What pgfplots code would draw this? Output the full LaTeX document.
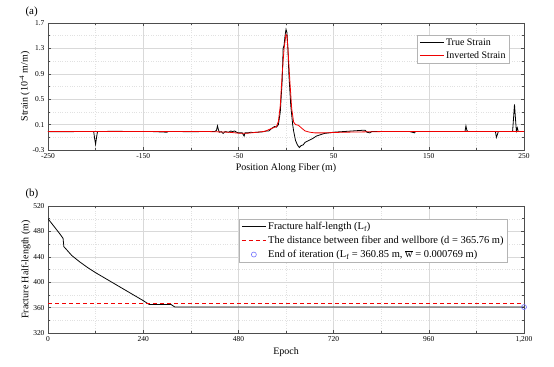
\documentclass[border=0pt]{standalone}
\usepackage{pgfplots}
\pgfplotsset{compat=1.18}
\usepackage{fontspec}
\setmainfont{Liberation Serif}
\definecolor{redA}{RGB}{240,0,0}
\definecolor{redB}{RGB}{238,1,1}
\definecolor{redC}{RGB}{242,2,2}
\definecolor{redD}{RGB}{236,3,3}
\definecolor{blackA}{RGB}{0,0,0}
\definecolor{blackB}{RGB}{3,3,3}
\definecolor{blackC}{RGB}{6,6,6}
\definecolor{blackD}{RGB}{9,9,9}
\definecolor{blueA}{RGB}{110,110,255}
\definecolor{blueB}{RGB}{112,112,254}
\definecolor{frame}{RGB}{77,77,77}
\definecolor{gridc}{RGB}{217,217,217}
\definecolor{gridm}{RGB}{225,225,225}
\definecolor{legc}{RGB}{180,180,180}
\pgfplotsset{
  myax/.style={
    scale only axis, width=476bp, height=127bp,
    axis line style={draw=frame, line width=0.7pt},
    tick align=inside, tick style={draw=frame, line width=0.5pt},
    major tick length=3bp, minor tick length=2bp,
    grid=both,
    major grid style={draw=gridc, line width=0.4pt},
    minor grid style={draw=gridm, line width=0.4pt, dotted},
    tick label style={font=\fontsize{7.5}{9}\selectfont},
    label style={font=\fontsize{10}{12}\selectfont},
    /pgf/number format/assume math mode=true,
    legend cell align=left,
    legend style={font=\fontsize{10}{12}\selectfont, draw=legc, line width=0.5pt, inner xsep=2pt, inner ysep=1.5pt, row sep=0.5pt},
    legend image code/.code={\draw[mark repeat=2,mark phase=2,##1] plot coordinates {(0cm,0cm) (0.42cm,0cm) (0.84cm,0cm)};},
  }
}
\begin{document}
\begin{tikzpicture}
\useasboundingbox (0,0) rectangle (554bp,367bp);
\node[anchor=west, font=\fontsize{11}{12}\selectfont] at (22bp,355bp) {(a)};
\node[anchor=west, font=\fontsize{11}{12}\selectfont] at (22bp,173bp) {(b)};
\begin{axis}[myax, at={(48bp,217bp)}, anchor=south west,
  xmin=-250, xmax=250, ymin=-0.3, ymax=1.7,
  xtick={-250,-150,-50,50,150,250},
  minor xtick={-200,-100,0,100,200},
  ytick={-0.3,0.1,0.5,0.9,1.3,1.7},
  yticklabels={-0.3,0.1,0.5,0.9,1.3,1.7},
  minor ytick={-0.1,0.3,0.7,1.1,1.5},
  xlabel={Position Along Fiber (m)},
  ylabel={Strain (10\textsuperscript{-4} m/m)},
  xlabel style={yshift=2bp},
  ylabel style={yshift=-4bp},
  legend style={at={(0.97,0.906)}, anchor=north east},
]
\addplot[draw=blackA, line width=0.8pt, forget plot] coordinates {
(-250,-0.01) (-240,-0.012) (-220,-0.01) (-205,-0.01) (-202,-0.01) (-201,-0.12) (-200,-0.21) (-199,-0.1) (-198,-0.01)
(-180,-0.005) (-160,-0.01) (-140,-0.01) (-125,-0.02) (-124,-0.01) (-110,-0.01) (-100,-0.012) (-90,-0.01) (-75,-0.01)
(-73,0.01) (-72,0.08) (-71,0.02) (-70,-0.02) (-68,-0.01) (-66,-0.04) (-64,-0.01) (-60,-0.02) (-58,0) (-56,-0.01)
(-54,0) (-52,-0.02) (-50,-0.03) (-46,-0.03) (-44,-0.08) (-43,-0.03) (-40,-0.03) (-37,-0.02) (-35,-0.025) (-30,-0.02)
(-25,-0.015) (-22,-0.005) (-20,0) (-18,0.0) (-15,0.04) (-12,0.07) (-10,0.06) (-8,0.1) (-6,0.3) (-4,0.8) (-3,1.3)
(-2,1.35) (-1,1.5) (0,1.6) (1,1.55) (2,1.3) (3,0.9) (5,0.4) (7,0.1) (8,0.0) (10,-0.15) (12,-0.22) (14,-0.26)
(16,-0.23) (18,-0.22) (20,-0.18) (24,-0.15) (28,-0.12) (32,-0.08) (36,-0.06) (40,-0.04) (45,-0.03) (50,-0.02)
(60,-0.01) (70,0.0) (80,0.01) (83,0.01) (85,-0.02) (88,-0.03) (90,-0.01) (100,-0.01) (130,-0.01) (135,-0.03)
(136,-0.01) (150,-0.01) (185,-0.01) (188,-0.01) (189,0.08) (190,0.01) (191,-0.01) (220,-0.01) (221,-0.1)
(222,-0.06) (223,-0.01) (238,-0.01) (239,0.2) (240,0.42) (241,0.2) (242,0.0) (243,0.05) (244,-0.01) (250,-0.01)
};
\addplot[draw=redA, line width=0.8pt, forget plot] coordinates {
(-250,-0.01) (-150,-0.01) (-80,-0.01) (-60,-0.02) (-50,-0.035) (-40,-0.035) (-30,-0.02) (-22,-0.005) (-15,0.04)
(-10,0.07) (-8,0.15) (-6,0.4) (-4,0.9) (-2,1.3) (0,1.52) (1,1.5) (2,1.3) (4,0.8) (6,0.35) (8,0.14) (10,0.1)
(13,0.09) (16,0.05) (20,0.0) (25,-0.02) (30,-0.03) (40,-0.03) (60,-0.02) (100,-0.01) (250,-0.01)
};
\addlegendimage{draw=blackB, line width=0.8pt}
\addlegendentry{True Strain}
\addlegendimage{draw=redB, line width=0.8pt}
\addlegendentry{Inverted Strain}
\end{axis}
\begin{axis}[myax, at={(48bp,34bp)}, anchor=south west,
  xmin=0, xmax=1200, ymin=320, ymax=520,
  xtick={0,240,480,720,960,1200},
  minor xtick={120,360,600,840,1080},
  ytick={320,360,400,440,480,520},
  minor ytick={340,380,420,460,500},
  xlabel={Epoch},
  ylabel={Fracture Half-length (m)},
  xlabel style={yshift=2bp},
  ylabel style={yshift=-4bp},
  legend style={at={(0.966,0.9)}, anchor=north east, font=\fontsize{10.5}{12.5}\selectfont, row sep=1pt},
]
\addplot[draw=blackC, line width=0.8pt, forget plot] coordinates {
(0,500) (10,492) (20,484) (30,476) (38,469) (40,456) (50,449) (60,442) (80,432) (100,423) (120,415)
(150,404) (180,393) (210,382) (240,371) (255,365) (310,365) (320,360.85) (1200,360.85)
};
\addplot[draw=redC, line width=0.9pt, dash pattern=on 4bp off 3bp, forget plot] coordinates {(0,365.76) (1200,365.76)};
\addplot[only marks, mark=o, mark size=2.5bp, draw=blueA, mark options={draw=blueA, fill=none}, line width=0.6pt, forget plot] coordinates {(1200,360.85)};
\addlegendimage{draw=blackD, line width=0.8pt}
\addlegendentry{Fracture half-length (L\textsubscript{f})}
\addlegendimage{draw=redD, line width=0.9pt, dash pattern=on 4bp off 3bp}
\addlegendentry{The distance between fiber and wellbore (d = 365.76 m)}
\addlegendimage{only marks, mark=o, mark size=2.5bp, draw=blueB, mark options={draw=blueB, fill=none}, line width=0.6pt}
\addlegendentry{End of iteration (L\textsubscript{f} = 360.85 m, $\overline{\mbox{w}}$ = 0.000769 m)}
\end{axis}
\end{tikzpicture}
\end{document}
